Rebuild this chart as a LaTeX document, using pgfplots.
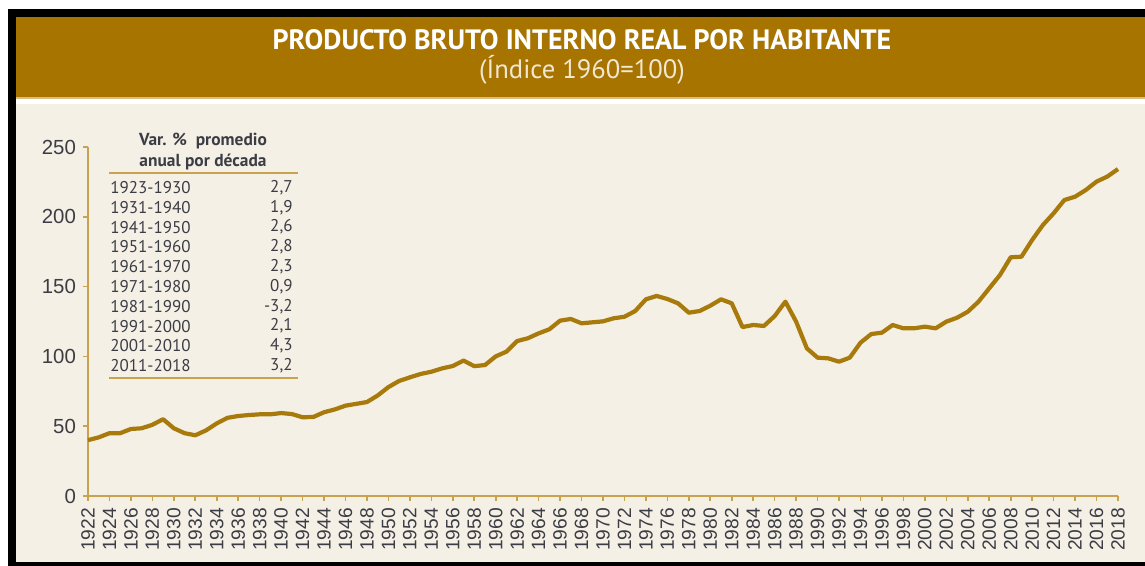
\documentclass[border=0pt]{standalone}
\usepackage{fontspec}
\setmainfont{Liberation Sans}
\newfontfamily\ptsans{PT Sans}
\usepackage{pgfplots}
\pgfplotsset{compat=1.18}

\definecolor{band}{HTML}{A87400}
\definecolor{cream}{HTML}{F4F0E6}
\definecolor{linec}{HTML}{A87A0C}
\definecolor{axisc}{HTML}{C9A24E}
\definecolor{tickc}{HTML}{3C3C44}
\definecolor{subc}{HTML}{F2E8D2}

\pgfplotstableread{
year val
1922 40
1923 42
1924 45
1925 45
1926 48
1927 48.5
1928 51
1929 55
1930 48.5
1931 45
1932 43.5
1933 47
1934 52
1935 56
1936 57.3
1937 58
1938 58.5
1939 58.5
1940 59.4
1941 58.7
1942 56.4
1943 56.6
1944 60
1945 62
1946 64.7
1947 66
1948 67.3
1949 72
1950 78
1951 82.4
1952 85
1953 87.4
1954 89
1955 91.4
1956 93.1
1957 97
1958 93
1959 93.8
1960 100
1961 103.4
1962 111
1963 113
1964 116.5
1965 119.4
1966 125.6
1967 126.8
1968 123.7
1969 124.4
1970 125.1
1971 127.3
1972 128.4
1973 132.5
1974 140.9
1975 143.3
1976 141.1
1977 138
1978 131.3
1979 132.5
1980 136.3
1981 140.9
1982 138
1983 121
1984 122.5
1985 121.8
1986 128.9
1987 139.2
1988 124.9
1989 105.8
1990 99.1
1991 98.6
1992 96.2
1993 99.1
1994 109.8
1995 116
1996 117
1997 122.5
1998 120.1
1999 120.1
2000 121.3
2001 120.1
2002 124.9
2003 127.7
2004 132
2005 139.2
2006 148.8
2007 158.3
2008 171
2009 171.4
2010 183.4
2011 194.1
2012 202.5
2013 212
2014 214.4
2015 219.2
2016 225.2
2017 228.8
2018 234.2
}\pibdata

\begin{document}
\begin{tikzpicture}
\useasboundingbox (0,0) rectangle (572.5pt,283pt);
% frame, title band and background in pixel units (origin top left)
\begin{scope}[x=0.5pt,y=-0.5pt,shift={(0pt,283pt)}]
  \fill[white] (0,0) rectangle (1145,566);
  \fill[black] (8,9) rectangle (1145,17);
  \fill[black] (8,9) rectangle (16,566);
  \fill[black] (8,562) rectangle (1145,566);
  \fill[band] (16,17) rectangle (1145,97);
  \fill[axisc!70] (16,97) rectangle (1145,99);
  \fill[cream] (16,104) rectangle (1145,562);
  \node[text=white,font={\ptsans\bfseries\fontsize{14}{16}\selectfont}] at (582,40) {PRODUCTO BRUTO INTERNO REAL POR HABITANTE};
  \node[text=subc,font={\ptsans\fontsize{13.3}{15}\selectfont}] at (582,70) {(Índice 1960=100)};
  % inset table
  \node[text=tickc,font={\ptsans\bfseries\fontsize{8.7}{10.5}\selectfont},align=center] at (203,152) {Var. \%\ \ promedio\\anual por década};
  \draw[axisc,line width=1.1pt] (109,173) -- (298,173);
  \draw[axisc,line width=1.1pt] (109,378) -- (298,378);
  \foreach \p/\v [count=\i from 0] in {1923-1930/{2,7},1931-1940/{1,9},1941-1950/{2,6},1951-1960/{2,8},1961-1970/{2,3},1971-1980/{0,9},1981-1990/{-3,2},1991-2000/{2,1},2001-2010/{4,3},2011-2018/{3,2}}{
    \node[anchor=west,text=tickc,font={\ptsans\fontsize{8.5}{10}\selectfont},inner sep=0pt] at (110,{187.5+19.8*\i}) {\p};
    \node[anchor=east,text=tickc,font={\ptsans\fontsize{8.5}{10}\selectfont},inner sep=0pt] at (293,{187.5+19.8*\i}) {\v};
  }
\end{scope}
\begin{axis}[
  at={(44pt,35pt)}, anchor=south west,
  scale only axis, width=515pt, height=174.5pt,
  xmin=1922, xmax=2018, ymin=0, ymax=250,
  axis lines=left,
  axis line style={draw=axisc, line width=1pt, -},
  xtick={1922,1924,...,2018},
  ytick={0,50,...,250},
  tick style={draw=axisc, line width=0.8pt},
  tick align=outside, major tick length=2.5pt,
  /pgf/number format/1000 sep={},
  /pgf/number format/assume math mode=true,
  xticklabel style={rotate=90, anchor=east, text=tickc, font=\fontsize{9.6}{10}\selectfont},
  yticklabel style={text=tickc, font=\fontsize{10.2}{11}\selectfont},
  clip=false,
]
\addplot[linec, line width=2.1pt, line join=round] table[x=year,y=val] {\pibdata};
\end{axis}
\end{tikzpicture}
\end{document}
